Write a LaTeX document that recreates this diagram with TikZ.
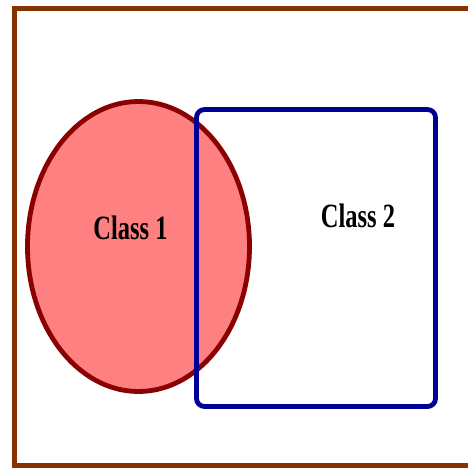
\documentclass[tikz,border=0pt]{standalone}
\usepackage{fontspec}
\setmainfont{Liberation Serif}
\usetikzlibrary{shapes.geometric}
\definecolor{framebrown}{RGB}{133,51,0}
\definecolor{classred}{RGB}{139,0,0}
\definecolor{classblue}{RGB}{0,0,150}

\begin{document}
\begin{tikzpicture}[x=1pt, y=-1pt,
  frame/.style={draw=framebrown, line width=4.5pt, inner sep=0pt, outer sep=0pt},
  cone/.style={ellipse, draw=classred, fill=red!50, line width=4.8pt,
               inner sep=0pt, minimum width=222pt, minimum height=290pt},
  ctwo/.style={rectangle, draw=classblue, line width=4.8pt, rounded corners=8pt,
               inner sep=0pt, minimum width=239pt, minimum height=297pt},
  lbl/.style={font=\fontsize{34}{34}\selectfont\bfseries, xscale=0.72, inner sep=0pt},
]
\useasboundingbox (0,0) rectangle (468,469);
\node[frame, minimum width=466pt, minimum height=457pt] (box) at (247.7,237) {};
\node[cone] (class1) at (138.5,246.5) {};
\node[ctwo] (class2) at (316,258) {};
\node[lbl] (t1) at (130.5,228) {Class 1};
\node[lbl] (t2) at (358,216) {Class 2};
\end{tikzpicture}
\end{document}
